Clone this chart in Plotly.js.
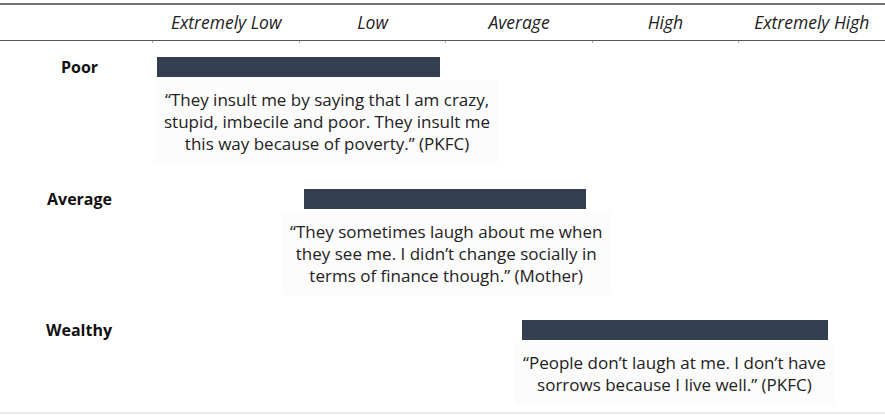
<!DOCTYPE html>
<html>
<head>
<meta charset="utf-8">
<script src="https://cdn.plot.ly/plotly-3.0.1.min.js"></script>
<style>html,body{margin:0;padding:0;background:#fff;}#chart{width:885px;height:415px;}</style>
</head>
<body>
<div id="chart"></div>
<script>
const rows = ['Poor', 'Average', 'Wealthy'];
const levels = ['Extremely Low', 'Low', 'Average', 'High', 'Extremely High'];
const levelPos = [0.5, 1.5, 2.5, 3.5, 4.5];
const barStart = [0.03, 1.03, 2.52];
const barEnd = [1.96, 2.96, 4.61];
const quotes = [
  '“They insult me by saying that I am crazy,<br>stupid, imbecile and poor. They insult me<br>this way because of poverty.” (PKFC)',
  '“They sometimes laugh about me when<br>they see me. I didn’t change socially in<br>terms of finance though.” (Mother)',
  '“People don’t laugh at me. I don’t have<br>sorrows because I live well.” (PKFC)'
];
const quoteCenter = [1.19, 2.0, 3.56];

const FONT = '"Open Sans", "DejaVu Sans", sans-serif';
const rowIdx = rows.map((r, i) => i);

const trace = {
  type: 'bar',
  orientation: 'h',
  y: rowIdx,
  x: barEnd.map((e, i) => e - barStart[i]),
  base: barStart,
  width: 0.152,
  marker: {color: '#333f50'},
  hoverinfo: 'skip'
};

const annotations = [];
rows.forEach((r, i) => {
  annotations.push({
    x: -0.505, y: i, xref: 'x', yref: 'y', text: '<b>' + r + '</b>',
    showarrow: false, xanchor: 'center', yanchor: 'middle',
    font: {family: FONT, size: 16, color: '#111'}
  });
  annotations.push({
    x: quoteCenter[i], y: i, xref: 'x', yref: 'y', text: quotes[i],
    showarrow: false, xanchor: 'center', yanchor: 'top', yshift: -12, align: 'center',
    bgcolor: '#fcfcfc', borderpad: 8,
    font: {family: FONT, size: 17, color: '#222'}
  });
});

const layout = {
  width: 885, height: 415,
  margin: {l: 0, r: 0, t: 41, b: 0},
  paper_bgcolor: '#fff', plot_bgcolor: '#fff',
  showlegend: false,
  xaxis: {
    range: [-1.045, 5], side: 'top', showgrid: false, zeroline: false,
    showline: true, linecolor: '#555', linewidth: 1.5,
    tickvals: levelPos, ticktext: levels, ticks: '', ticklabelstandoff: 4,
    tickfont: {family: FONT, size: 17.5, style: 'italic', color: '#222'},
    minor: {tickvals: [0, 1, 2, 3, 4], ticks: 'inside', ticklen: 2, tickcolor: '#aaa', showgrid: false},
    fixedrange: true
  },
  yaxis: {range: [2.646, -0.198], visible: false, fixedrange: true},
  shapes: [
    {type: 'line', xref: 'paper', yref: 'paper', x0: 0, x1: 1, y0: 1.0989, y1: 1.0989, line: {color: '#444', width: 1.5}},
    {type: 'line', xref: 'paper', yref: 'paper', x0: 0, x1: 1, y0: 0.0053, y1: 0.0053, line: {color: '#eaeaea', width: 2}}
  ],
  annotations: annotations,
  bargap: 0
};

Plotly.newPlot('chart', [trace], layout, {staticPlot: true, displayModeBar: false});
</script>
</body>
</html>
